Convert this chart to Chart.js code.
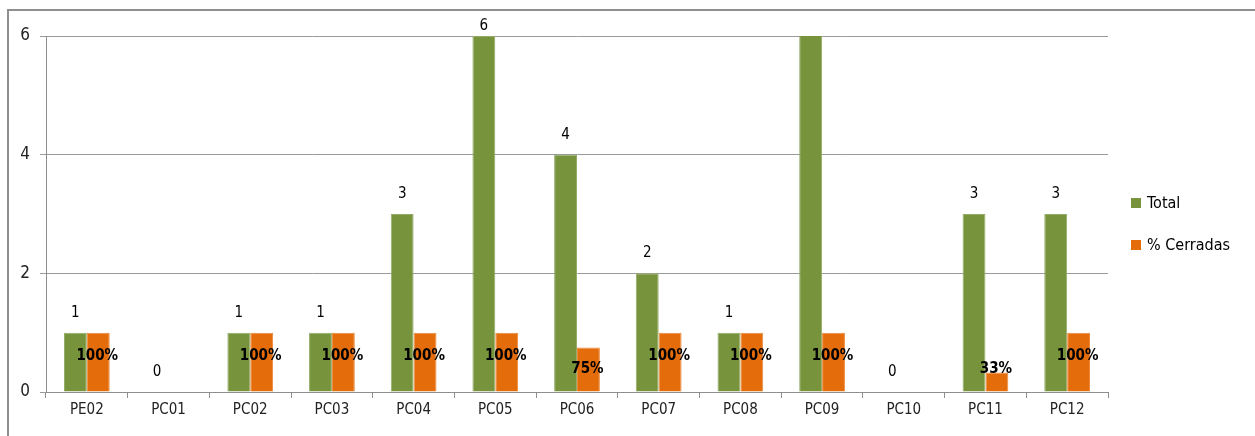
<!DOCTYPE html>
<html>
<head>
<meta charset="utf-8">
<script src="https://cdn.jsdelivr.net/npm/chart.js@4"></script>
<style>
    html, body { margin: 0; padding: 0; background: #fff; overflow: hidden; }
    #wrap { position: relative; width: 1255px; height: 436px; }
    #frame { position: absolute; left: 7px; top: 9px; width: 1300px; height: 500px; border-left: 2px solid #8e8e8e; border-top: 2px solid #8e8e8e; pointer-events: none; }
    canvas { position: absolute; left: 0; top: 0; }
</style>
</head>
<body>
<div id="wrap">
    <canvas id="chart" width="1255" height="436"></canvas>
    <div id="frame"></div>
</div>
<script>
// Chart data
const categories = ['PE02', 'PC01', 'PC02', 'PC03', 'PC04', 'PC05', 'PC06', 'PC07', 'PC08', 'PC09', 'PC10', 'PC11', 'PC12'];
const totalValues = [1, 0, 1, 1, 3, 6, 4, 2, 1, 7, 0, 3, 3];
const closedShare = [1, null, 1, 1, 1, 1, 0.75, 1, 1, 1, null, 0.33, 1];
const yTicks = [0, 2, 4, 6];
const seriesNames = ['Total', '% Cerradas'];
const seriesColors = ['#77933C', '#E46C0A'];

const fontFamily = "'Liberation Sans Narrow', 'DejaVu Sans Condensed', Arial, sans-serif";

// Value labels drawn on top of the bars
const valueLabels = {
    id: 'valueLabels',
    afterDatasetsDraw(chart) {
        const ctx = chart.ctx;
        const area = chart.chartArea;
        const yScale = chart.scales.y;
        ctx.save();
        ctx.textAlign = 'center';
        ctx.textBaseline = 'middle';

        // Total labels above green bars
        ctx.font = '15px ' + fontFamily;
        ctx.fillStyle = '#000';
        chart.getDatasetMeta(0).data.forEach(function(bar, i) {
            const v = totalValues[i];
            if (v > yScale.max) return;
            const y = Math.max(bar.y - 20, area.top - 10);
            ctx.fillText(String(v), bar.x, y);
        });

        // Percent labels inside orange bars
        ctx.font = 'bold 15px ' + fontFamily;
        chart.getDatasetMeta(1).data.forEach(function(bar, i) {
            const v = closedShare[i];
            if (v === null) return;
            const y = Math.min(bar.y + 23, bar.base - 22);
            ctx.fillText(Math.round(v * 100) + '%', bar.x - 1, y);
        });
        ctx.restore();
    }
};

// Legend on the right side
const sideLegend = {
    id: 'sideLegend',
    afterDraw(chart) {
        const ctx = chart.ctx;
        const area = chart.chartArea;
        const mid = (area.top + area.bottom) / 2;
        const x = area.right + 23;
        ctx.save();
        ctx.font = '16px ' + fontFamily;
        ctx.textBaseline = 'middle';
        ctx.textAlign = 'left';
        seriesNames.forEach(function(name, i) {
            const cy = mid - 11 + i * 42;
            ctx.fillStyle = seriesColors[i];
            ctx.fillRect(x, cy - 5, 10, 10);
            ctx.fillStyle = '#000';
            ctx.fillText(name, x + 16, cy + 1);
        });
        ctx.restore();
    }
};

const ctx = document.getElementById('chart').getContext('2d');
new Chart(ctx, {
    type: 'bar',
    data: {
        labels: categories,
        datasets: [{
            label: seriesNames[0],
            data: totalValues,
            backgroundColor: seriesColors[0],
            borderColor: '#93ab66',
            borderWidth: 1,
            borderSkipped: 'bottom',
            categoryPercentage: 0.56,
            barPercentage: 1
        }, {
            label: seriesNames[1],
            data: closedShare,
            backgroundColor: seriesColors[1],
            borderColor: '#ec8a3c',
            borderWidth: 1,
            borderSkipped: 'bottom',
            categoryPercentage: 0.56,
            barPercentage: 1
        }]
    },
    options: {
        responsive: false,
        animation: false,
        layout: {
            padding: { top: 36, right: 147, left: 0, bottom: 0 }
        },
        plugins: {
            legend: { display: false },
            tooltip: { enabled: false }
        },
        scales: {
            x: {
                afterFit: function(scale) { scale.height = 44; },
                grid: {
                    offset: true,
                    drawOnChartArea: false,
                    drawTicks: true,
                    tickLength: 6,
                    color: '#8e8e8e'
                },
                border: { color: '#8e8e8e', width: 1 },
                ticks: {
                    color: '#222',
                    padding: 3,
                    maxRotation: 0,
                    font: { family: fontFamily, size: 15 }
                }
            },
            y: {
                min: yTicks[0],
                max: yTicks[yTicks.length - 1],
                afterFit: function(scale) { scale.width = 46; },
                afterBuildTicks: function(scale) {
                    scale.ticks = yTicks.map(function(v) { return { value: v }; });
                },
                grid: {
                    color: '#9a9a9a',
                    tickLength: 6,
                    drawTicks: true
                },
                border: { color: '#8e8e8e', width: 1 },
                ticks: {
                    color: '#222',
                    padding: 10,
                    font: { family: fontFamily, size: 17 }
                }
            }
        }
    },
    plugins: [valueLabels, sideLegend]
});
</script>
</body>
</html>
